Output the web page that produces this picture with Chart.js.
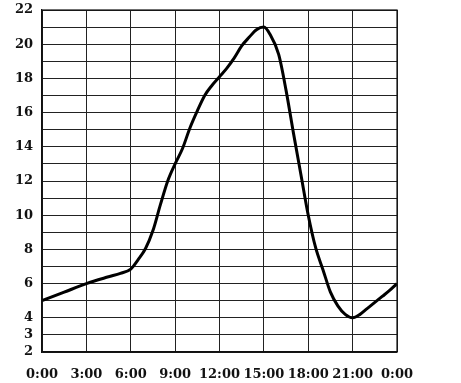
<!DOCTYPE html>
<html>
<head>
<meta charset="utf-8">
<script src="https://cdn.jsdelivr.net/npm/chart.js@4"></script>
<style>
  html, body { margin: 0; padding: 0; background: #fff; }
  #wrap { width: 461px; height: 383px; }
</style>
</head>
<body>
<div id="wrap"><canvas id="c" width="461" height="383"></canvas></div>
<script>
// Hours of the day (0 = midnight, 24 = next midnight)
const hours = [0, 1.5, 3, 4.5, 5.3, 6, 6.5, 7, 7.5, 8, 8.5, 9, 9.5, 10, 10.5, 11, 11.5, 12, 12.5, 13, 13.5, 14, 14.5, 15, 15.4, 16, 16.5, 17, 17.5, 18, 18.5, 19, 19.5, 20, 20.5, 21, 21.5, 22, 22.5, 23, 23.5, 24];
// Values
const values = [5.0, 5.5, 6.0, 6.4, 6.6, 6.85, 7.4, 8.05, 9.1, 10.6, 12.0, 13.0, 13.9, 15.1, 16.1, 17.0, 17.6, 18.1, 18.6, 19.2, 19.9, 20.4, 20.85, 21.0, 20.6, 19.4, 17.3, 14.8, 12.4, 10.0, 8.1, 6.8, 5.5, 4.7, 4.2, 4.0, 4.2, 4.55, 4.9, 5.25, 5.6, 6.0];
// Tick labels
const xTickLabels = ['0:00', '3:00', '6:00', '9:00', '12:00', '15:00', '18:00', '21:00', '0:00'];
const yTickLabels = [2, 3, 4, 6, 8, 10, 12, 14, 16, 18, 20, 22];

const points = hours.map((h, i) => ({ x: h, y: values[i] }));
const tickFont = { family: 'DejaVu Serif', weight: 'bold', size: 13 };

new Chart(document.getElementById('c'), {
  type: 'line',
  data: {
    datasets: [{
      data: points,
      borderColor: '#000',
      borderWidth: 3,
      pointRadius: 0,
      cubicInterpolationMode: 'monotone',
      fill: false
    }]
  },
  options: {
    responsive: false,
    animation: false,
    layout: { padding: { left: 0, right: 64, top: 10, bottom: 0 } },
    plugins: { legend: { display: false }, tooltip: { enabled: false } },
    scales: {
      x: {
        type: 'linear',
        min: 0,
        max: 24,
        border: { display: true, color: '#111', width: 1.2 },
        grid: { color: '#222', lineWidth: 1, drawTicks: false },
        ticks: {
          stepSize: 3,
          padding: 15,
          color: '#111',
          font: tickFont,
          maxRotation: 0,
          autoSkip: false,
          callback: (v) => xTickLabels[Math.round(v / 3)]
        },
        afterFit: (s) => { s.height = 31; s.paddingLeft = 0; s.paddingRight = 0; }
      },
      y: {
        min: 2,
        max: 22,
        border: { display: true, color: '#111', width: 1.2 },
        grid: { color: '#222', lineWidth: 1, drawTicks: false },
        ticks: {
          stepSize: 1,
          padding: 9,
          color: '#111',
          font: tickFont,
          autoSkip: false,
          callback: (v) => yTickLabels.includes(v) ? String(v) : ''
        },
        afterFit: (s) => { s.width = 42; s.paddingTop = 0; s.paddingBottom = 0; }
      }
    }
  },
  plugins: [{
    id: 'bg',
    beforeDraw: (chart) => {
      const ctx = chart.ctx;
      ctx.save();
      ctx.fillStyle = '#fff';
      ctx.fillRect(0, 0, chart.width, chart.height);
      ctx.restore();
    }
  }, {
    id: 'frame',
    afterDatasetsDraw: (chart) => {
      const a = chart.chartArea, ctx = chart.ctx;
      ctx.save();
      ctx.strokeStyle = '#111';
      ctx.lineWidth = 1.2;
      ctx.strokeRect(a.left, a.top, a.right - a.left, a.bottom - a.top);
      ctx.restore();
    }
  }]
});
</script>
</body>
</html>
